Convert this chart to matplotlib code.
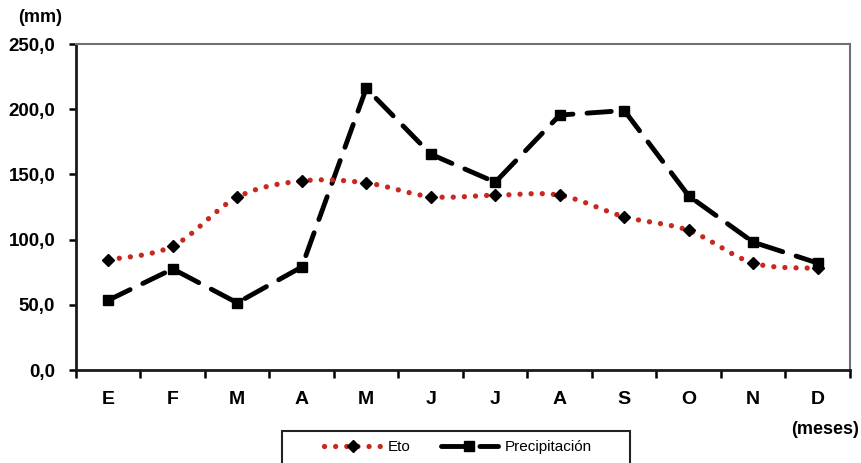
import numpy as np
import matplotlib.pyplot as plt
from matplotlib.lines import Line2D
from matplotlib.patches import Rectangle

plt.rcParams['font.family'] = ['Liberation Sans', 'DejaVu Sans']

meses = ['E', 'F', 'M', 'A', 'M', 'J', 'J', 'A', 'S', 'O', 'N', 'D']
eto = [84.5, 95.0, 132.5, 145.0, 143.5, 133.0, 134.0, 134.0, 117.5, 107.0, 82.0, 78.0]
precipitacion = [53.5, 77.5, 51.5, 79.0, 216.0, 165.5, 144.0, 195.5, 199.0, 133.5, 98.0, 82.0]


def suavizar(x, y, n=30):
    # curva suave tipo Excel (Catmull-Rom entre puntos consecutivos)
    x = np.asarray(x, float)
    y = np.asarray(y, float)
    px = np.concatenate([[x[0]], x, [x[-1]]])
    py = np.concatenate([[y[0]], y, [y[-1]]])
    xs, ys = [], []
    t = np.linspace(0, 1, n)
    for i in range(1, len(px) - 2):
        p0, p1, p2, p3 = (np.array([px[j], py[j]]) for j in range(i - 1, i + 3))
        c1 = p1 + (p2 - p0) / 6
        c2 = p2 - (p3 - p1) / 6
        b = ((1 - t) ** 3)[:, None] * p1 + (3 * (1 - t) ** 2 * t)[:, None] * c1 \
            + (3 * (1 - t) * t ** 2)[:, None] * c2 + (t ** 3)[:, None] * p2
        xs.append(b[:, 0])
        ys.append(b[:, 1])
    return np.concatenate(xs), np.concatenate(ys)


fig = plt.figure(figsize=(8.62, 4.63), dpi=100)
ax = fig.add_axes([76 / 862, 1 - 370 / 463, 774 / 862, 326 / 463])

x = np.arange(len(meses))
rojo = '#c8281e'

# Precipitación: discontinua negra con cuadrados
ax.plot(x, precipitacion, color='black', lw=3.5, dashes=(5.0, 2.9),
        dash_capstyle='round', zorder=2)
ax.plot(x, precipitacion, ls='none', marker='s', ms=7.5, color='black', zorder=3)

# Eto: punteada roja suavizada con rombos
xs, ys = suavizar(x, eto)
ax.plot(xs, ys, color=rojo, lw=3.8, dashes=(0.01, 2.1), dash_capstyle='round', zorder=4)
ax.plot(x, eto, ls='none', marker='D', ms=6.5, color='black', zorder=5)

ax.set_xlim(-0.5, 11.5)
ax.set_ylim(0, 250)
ax.set_xticks(x)
ax.set_xticklabels(meses, fontsize=14, fontweight='bold')
ax.set_xticks(np.arange(-0.5, 12, 1), minor=True)
ax.tick_params(axis='x', which='major', length=0, pad=15)
ax.tick_params(axis='x', which='minor', length=6, width=1.8, direction='out')
ax.set_yticks(np.arange(0, 251, 50))
ax.set_yticklabels([f'{v:.1f}'.replace('.', ',') for v in np.arange(0, 251, 50)],
                   fontsize=13.5, fontweight='bold')
ax.tick_params(axis='y', length=5, width=1.8, direction='out', pad=10)

for lado in ['left', 'bottom']:
    ax.spines[lado].set_color('#1a1a1a')
    ax.spines[lado].set_linewidth(2)
for lado in ['top', 'right']:
    ax.spines[lado].set_color('#707070')
    ax.spines[lado].set_linewidth(1.5)

fig.text(40 / 862, 1 - 18 / 463, '(mm)', fontsize=13, fontweight='bold',
         ha='center', va='center')
fig.text(825 / 862, 1 - 430 / 463, '(meses)', fontsize=13, fontweight='bold',
         ha='center', va='center')

# leyenda sin marco propio y recuadro dibujado aparte
h_eto = Line2D([], [], color=rojo, lw=3.8, dashes=(0.01, 2.1), dash_capstyle='round',
               marker='D', ms=6.5, mfc='black', mec='black')
h_pre = Line2D([], [], color='black', lw=3.5, dashes=(5.0, 2.9), dash_capstyle='round',
               marker='s', ms=7.5, mfc='black', mec='black')
fig.legend([h_eto, h_pre], ['Eto', 'Precipitación'], ncol=2,
           loc='center', bbox_to_anchor=(458 / 862, 1 - 447 / 463),
           frameon=False, fontsize=11, borderpad=0, borderaxespad=0,
           handlelength=3.7, columnspacing=2.0, handletextpad=0.45)
fig.patches.append(Rectangle((282 / 862, 1 - 475 / 463), 348 / 862, 44 / 463,
                             transform=fig.transFigure, fill=False,
                             edgecolor='#222222', lw=1.5))

fig.savefig('out.png', dpi=100)
